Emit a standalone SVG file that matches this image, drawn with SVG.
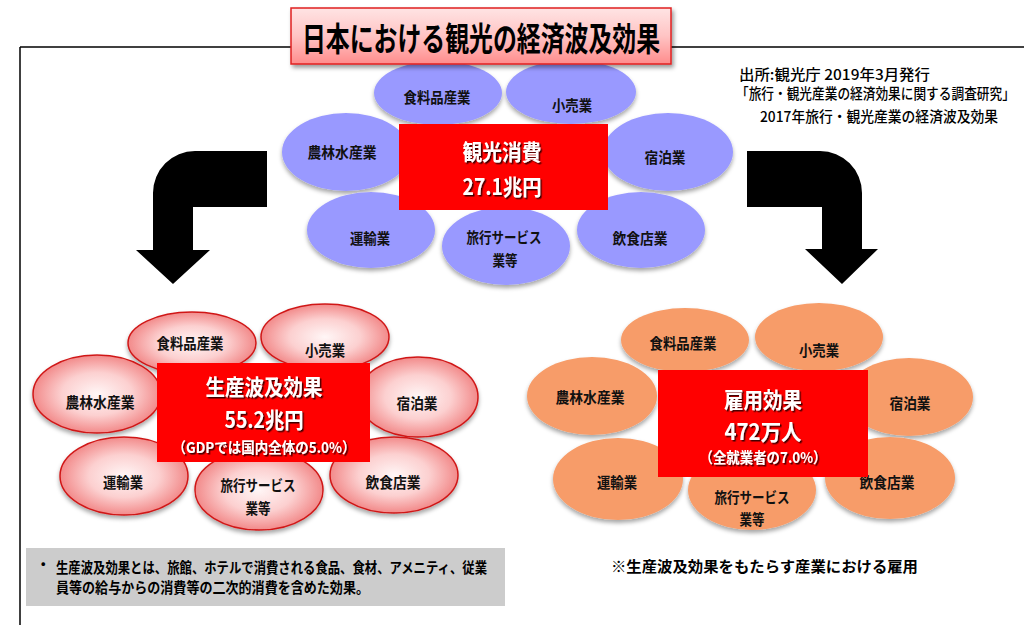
<svg xmlns="http://www.w3.org/2000/svg" width="1024" height="625" viewBox="0 0 1024 625">
<defs>
<filter id="sh" x="-20%" y="-20%" width="140%" height="150%"><feDropShadow dx="0" dy="3" stdDeviation="2.2" flood-color="#000" flood-opacity="0.35"/></filter>
<filter id="tsh" x="-10%" y="-20%" width="120%" height="150%"><feDropShadow dx="1.5" dy="1.5" stdDeviation="0.7" flood-color="#000" flood-opacity="0.75"/></filter>
<filter id="bsh" x="-5%" y="-10%" width="110%" height="130%"><feDropShadow dx="2" dy="3" stdDeviation="2" flood-color="#000" flood-opacity="0.4"/></filter>
<linearGradient id="titleG" x1="0" y1="0" x2="0" y2="1"><stop offset="0" stop-color="#ffe4e4"/><stop offset="0.5" stop-color="#ffc4c4"/><stop offset="1" stop-color="#ff8c8c"/></linearGradient>
<radialGradient id="pinkG" cx="50%" cy="50%" r="50%"><stop offset="0" stop-color="#fff6f6"/><stop offset="0.55" stop-color="#fcd0d0"/><stop offset="1" stop-color="#f28a8a"/></radialGradient>
<style>
text{font-family:"Noto Sans CJK JP","Noto Sans CJK SC",sans-serif;font-weight:bold;}
.lbl{font-size:15px;fill:#111;text-anchor:middle;}
.big{font-size:22px;fill:#fff;text-anchor:middle;}
.mid{font-size:15px;fill:#fff;text-anchor:middle;}
.blue{fill:#9999ff;}
.pink{fill:url(#pinkG);stroke:#d01818;stroke-width:1.5;}
.orange{fill:#f79c69;}
.core{fill:#ff0000;}
.src{font-size:14.5px;fill:#000;font-weight:500;}
.note{font-size:14.5px;fill:#000;}
</style>
</defs>
<rect width="1024" height="625" fill="#fff"/>
<g id="frame" fill="none" stroke="#000" stroke-width="1.5">
<line x1="20" y1="47" x2="1024" y2="47"/>
<line x1="20" y1="47" x2="20" y2="625"/>
</g>
<g id="source">
<text class="src" x="739" y="80" textLength="191" lengthAdjust="spacingAndGlyphs">出所:観光庁  2019年3月発行</text>
<text class="src" transform="translate(736 99) scale(0.875 1)" x="0" y="0">「旅行・観光産業の経済効果に関する調査研究」</text>
<text class="src" x="760" y="122" textLength="238" lengthAdjust="spacingAndGlyphs">2017年旅行・観光産業の経済波及効果</text>
</g>
<g id="connectors" fill="#000">
<path d="M267 151 L195 151 A42 42 0 0 0 153 193 L153 250 L136 250 L173 284 L210 250 L193 250 L193 207 L267 207 Z"/>
<path d="M747 151 L820 151 A42 42 0 0 1 862 193 L862 249 L878 249 L842 284 L805 249 L822 249 L822 207 L747 207 Z"/>
</g>
<g id="top-cluster">
<g filter="url(#sh)">
<ellipse class="blue" cx="438" cy="93" rx="64" ry="32"/>
<ellipse class="blue" cx="571" cy="92" rx="65" ry="32"/>
<ellipse class="blue" cx="346" cy="152" rx="64" ry="39"/>
<ellipse class="blue" cx="668" cy="152" rx="65" ry="39"/>
<ellipse class="blue" cx="371" cy="230" rx="64" ry="38"/>
<ellipse class="blue" cx="506" cy="246" rx="64" ry="39"/>
<ellipse class="blue" cx="641" cy="230" rx="64" ry="38"/>
</g>
<text class="lbl" x="437" y="103" textLength="67" lengthAdjust="spacingAndGlyphs">食料品産業</text>
<text class="lbl" x="572" y="111" textLength="40" lengthAdjust="spacingAndGlyphs">小売業</text>
<text class="lbl" x="342" y="158" textLength="69" lengthAdjust="spacingAndGlyphs">農林水産業</text>
<text class="lbl" x="665" y="163" textLength="41" lengthAdjust="spacingAndGlyphs">宿泊業</text>
<text class="lbl" x="370" y="244" textLength="40" lengthAdjust="spacingAndGlyphs">運輸業</text>
<text class="lbl" x="504" y="243" textLength="75" lengthAdjust="spacingAndGlyphs">旅行サービス</text>
<text class="lbl" x="505" y="266" textLength="25" lengthAdjust="spacingAndGlyphs">業等</text>
<text class="lbl" x="640" y="244" textLength="55" lengthAdjust="spacingAndGlyphs">飲食店業</text>
<g id="core-top">
<rect class="core" x="399" y="124" width="209" height="86"/>
<g filter="url(#tsh)">
<text class="big" x="502" y="160" textLength="79" lengthAdjust="spacingAndGlyphs">観光消費</text>
<text class="big" x="502" y="195" textLength="79" lengthAdjust="spacingAndGlyphs">27.1兆円</text>
</g>
</g>
</g>
<g id="left-cluster">
<g filter="url(#sh)">
<ellipse class="pink" cx="192" cy="343" rx="64" ry="31"/>
<ellipse class="pink" cx="325" cy="337" rx="64" ry="33"/>
<ellipse class="pink" cx="97" cy="394" rx="64" ry="39"/>
<ellipse class="pink" cx="418" cy="397" rx="60" ry="40"/>
<ellipse class="pink" cx="124" cy="476" rx="64" ry="39"/>
<ellipse class="pink" cx="259" cy="490" rx="64" ry="40"/>
<ellipse class="pink" cx="394" cy="475" rx="64" ry="38"/>
</g>
<text class="lbl" x="190" y="349" textLength="67" lengthAdjust="spacingAndGlyphs">食料品産業</text>
<text class="lbl" x="325" y="356" textLength="40" lengthAdjust="spacingAndGlyphs">小売業</text>
<text class="lbl" x="100" y="408" textLength="69" lengthAdjust="spacingAndGlyphs">農林水産業</text>
<text class="lbl" x="417" y="409" textLength="41" lengthAdjust="spacingAndGlyphs">宿泊業</text>
<text class="lbl" x="123" y="488" textLength="40" lengthAdjust="spacingAndGlyphs">運輸業</text>
<text class="lbl" x="258" y="491" textLength="75" lengthAdjust="spacingAndGlyphs">旅行サービス</text>
<text class="lbl" x="258" y="514" textLength="25" lengthAdjust="spacingAndGlyphs">業等</text>
<text class="lbl" x="393" y="488" textLength="55" lengthAdjust="spacingAndGlyphs">飲食店業</text>
<g id="core-left">
<rect class="core" x="157" y="363" width="213" height="99"/>
<g filter="url(#tsh)">
<text class="big" x="264" y="395" textLength="117" lengthAdjust="spacingAndGlyphs">生産波及効果</text>
<text class="big" x="264" y="428" textLength="79" lengthAdjust="spacingAndGlyphs">55.2兆円</text>
<text class="mid" x="264" y="453" textLength="183" lengthAdjust="spacingAndGlyphs">（GDPでは国内全体の5.0%）</text>
</g>
</g>
</g>
<g id="right-cluster">
<g filter="url(#sh)">
<ellipse class="orange" cx="685" cy="340" rx="64" ry="32"/>
<ellipse class="orange" cx="819" cy="337" rx="64" ry="34"/>
<ellipse class="orange" cx="592" cy="396" rx="65" ry="39"/>
<ellipse class="orange" cx="909" cy="397" rx="64" ry="39"/>
<ellipse class="orange" cx="618" cy="479" rx="65" ry="41"/>
<ellipse class="orange" cx="752" cy="490" rx="64" ry="40"/>
<ellipse class="orange" cx="890" cy="478" rx="65" ry="41"/>
</g>
<text class="lbl" x="683" y="349" textLength="67" lengthAdjust="spacingAndGlyphs">食料品産業</text>
<text class="lbl" x="819" y="356" textLength="40" lengthAdjust="spacingAndGlyphs">小売業</text>
<text class="lbl" x="590" y="403" textLength="69" lengthAdjust="spacingAndGlyphs">農林水産業</text>
<text class="lbl" x="910" y="409" textLength="41" lengthAdjust="spacingAndGlyphs">宿泊業</text>
<text class="lbl" x="617" y="488" textLength="40" lengthAdjust="spacingAndGlyphs">運輸業</text>
<text class="lbl" x="752" y="503" textLength="75" lengthAdjust="spacingAndGlyphs">旅行サービス</text>
<text class="lbl" x="752" y="525" textLength="25" lengthAdjust="spacingAndGlyphs">業等</text>
<text class="lbl" x="887" y="488" textLength="55" lengthAdjust="spacingAndGlyphs">飲食店業</text>
<g id="core-right">
<rect class="core" x="658" y="370" width="210" height="107"/>
<g filter="url(#tsh)">
<text class="big" x="763" y="408" textLength="78" lengthAdjust="spacingAndGlyphs">雇用効果</text>
<text class="big" x="763" y="440" textLength="77" lengthAdjust="spacingAndGlyphs">472万人</text>
<text class="mid" x="763" y="463" textLength="127" lengthAdjust="spacingAndGlyphs">（全就業者の7.0%）</text>
</g>
</g>
</g>
<g id="note-left">
<rect x="26" y="548" width="479" height="58" fill="#cccccc"/>
<text class="note" x="36" y="570" font-size="10">・</text>
<text class="note" x="56" y="573" textLength="431" lengthAdjust="spacingAndGlyphs">生産波及効果とは、旅館、ホテルで消費される食品、食材、アメニティ、従業</text>
<text class="note" x="56" y="593" textLength="313" lengthAdjust="spacingAndGlyphs">員等の給与からの消費等の二次的消費を含めた効果。</text>
</g>
<g id="note-right">
<text class="note" x="611" y="572" font-size="15" textLength="307" lengthAdjust="spacingAndGlyphs">※生産波及効果をもたらす産業における雇用</text>
</g>
<g id="title">
<rect x="291" y="8" width="380" height="56" fill="url(#titleG)" stroke="#e02020" stroke-width="1.5" filter="url(#bsh)"/>
<text x="481" y="51" font-size="33" fill="#000" text-anchor="middle" textLength="358" lengthAdjust="spacingAndGlyphs">日本における観光の経済波及効果</text>
</g>
</svg>
